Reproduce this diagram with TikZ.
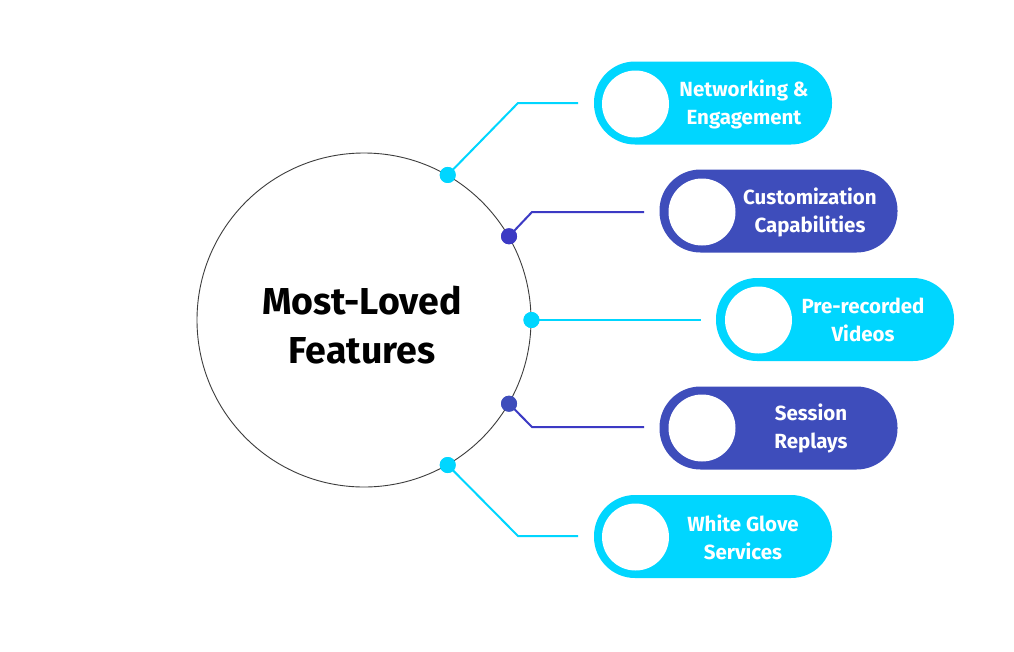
\documentclass[tikz,border=0pt]{standalone}
\usepackage{fontspec}
\setmainfont{Fira Sans}
\definecolor{cyanpill}{RGB}{0,214,255}
\definecolor{bluepill}{RGB}{62,77,187}
\definecolor{blueline}{RGB}{60,58,196}
\definecolor{ringgray}{RGB}{60,60,60}
\tikzset{
  pill/.style={draw=none, rectangle, rounded corners=41pt, minimum width=238pt, minimum height=83pt, inner sep=0pt},
  hole/.style={circle, fill=white, minimum size=67pt, inner sep=0pt},
  pilltext/.style={text=white, align=center, font=\fontsize{20.5}{28}\selectfont\bfseries, inner sep=0pt},
  dotc/.style={circle, minimum size=16pt, inner sep=0pt},
  conn/.style={line width=2pt},
}
\begin{document}
\begin{tikzpicture}[x=1pt,y=-1pt]
\fill[white] (0,0) rectangle (1014,651);
\useasboundingbox (0,0) rectangle (1014,651);

% main circle
\node[circle, draw=ringgray, line width=0.9pt, minimum size=334pt, inner sep=0pt] (main) at (364,320) {};
\node[font=\fontsize{37.5}{49}\selectfont\bfseries, align=center, inner sep=0pt] (title) at (362,325) {Most-Loved\\Features};

% pills
\node[pill, fill=cyanpill] (p1) at (713,103) {};
\node[pill, fill=bluepill] (p2) at (778.5,211) {};
\node[pill, fill=cyanpill] (p3) at (835,319.5) {};
\node[pill, fill=bluepill] (p4) at (778.5,428) {};
\node[pill, fill=cyanpill] (p5) at (713,536.5) {};

\node[hole] (h1) at (635.5,104) {};
\node[hole] (h2) at (702,212) {};
\node[hole] (h3) at (758.5,320) {};
\node[hole] (h4) at (702,428) {};
\node[hole] (h5) at (635.5,537) {};

\node[pilltext] (t1) at (744,104) {Networking \&\\Engagement};
\node[pilltext] (t2) at (810,212) {Customization\\Capabilities};
\node[pilltext] (t3) at (863,320) {Pre-recorded\\Videos};
\node[pilltext] (t4) at (811,428) {Session\\Replays};
\node[pilltext] (t5) at (743,537) {White Glove\\Services};

% connector end points
\coordinate (b1) at (518,103);
\coordinate (e1) at (578,103);
\coordinate (b2) at (532,212);
\coordinate (e2) at (644,212);
\coordinate (e3) at (701,320);
\coordinate (b4) at (532,427);
\coordinate (e4) at (644,427);
\coordinate (b5) at (518,536);
\coordinate (e5) at (578,536);

% dots
\node[dotc, fill=cyanpill] (d1) at (main.60) {};
\node[dotc, fill=blueline] (d2) at (main.30) {};
\node[dotc, fill=cyanpill] (d3) at (main.0) {};
\node[dotc, fill=bluepill] (d4) at (main.-30) {};
\node[dotc, fill=cyanpill] (d5) at (main.-60) {};

% connectors
\draw[conn, cyanpill] (d1.center) -- (b1) -- (e1);
\draw[conn, blueline] (d2.center) -- (b2) -- (e2);
\draw[conn, cyanpill] (d3.center) -- (e3);
\draw[conn, blueline] (d4.center) -- (b4) -- (e4);
\draw[conn, cyanpill] (d5.center) -- (b5) -- (e5);

% redraw dots on top
\fill[cyanpill] (d1) circle (8pt);
\fill[blueline] (d2) circle (8pt);
\fill[cyanpill] (d3) circle (8pt);
\fill[bluepill] (d4) circle (8pt);
\fill[cyanpill] (d5) circle (8pt);
\end{tikzpicture}
\end{document}
